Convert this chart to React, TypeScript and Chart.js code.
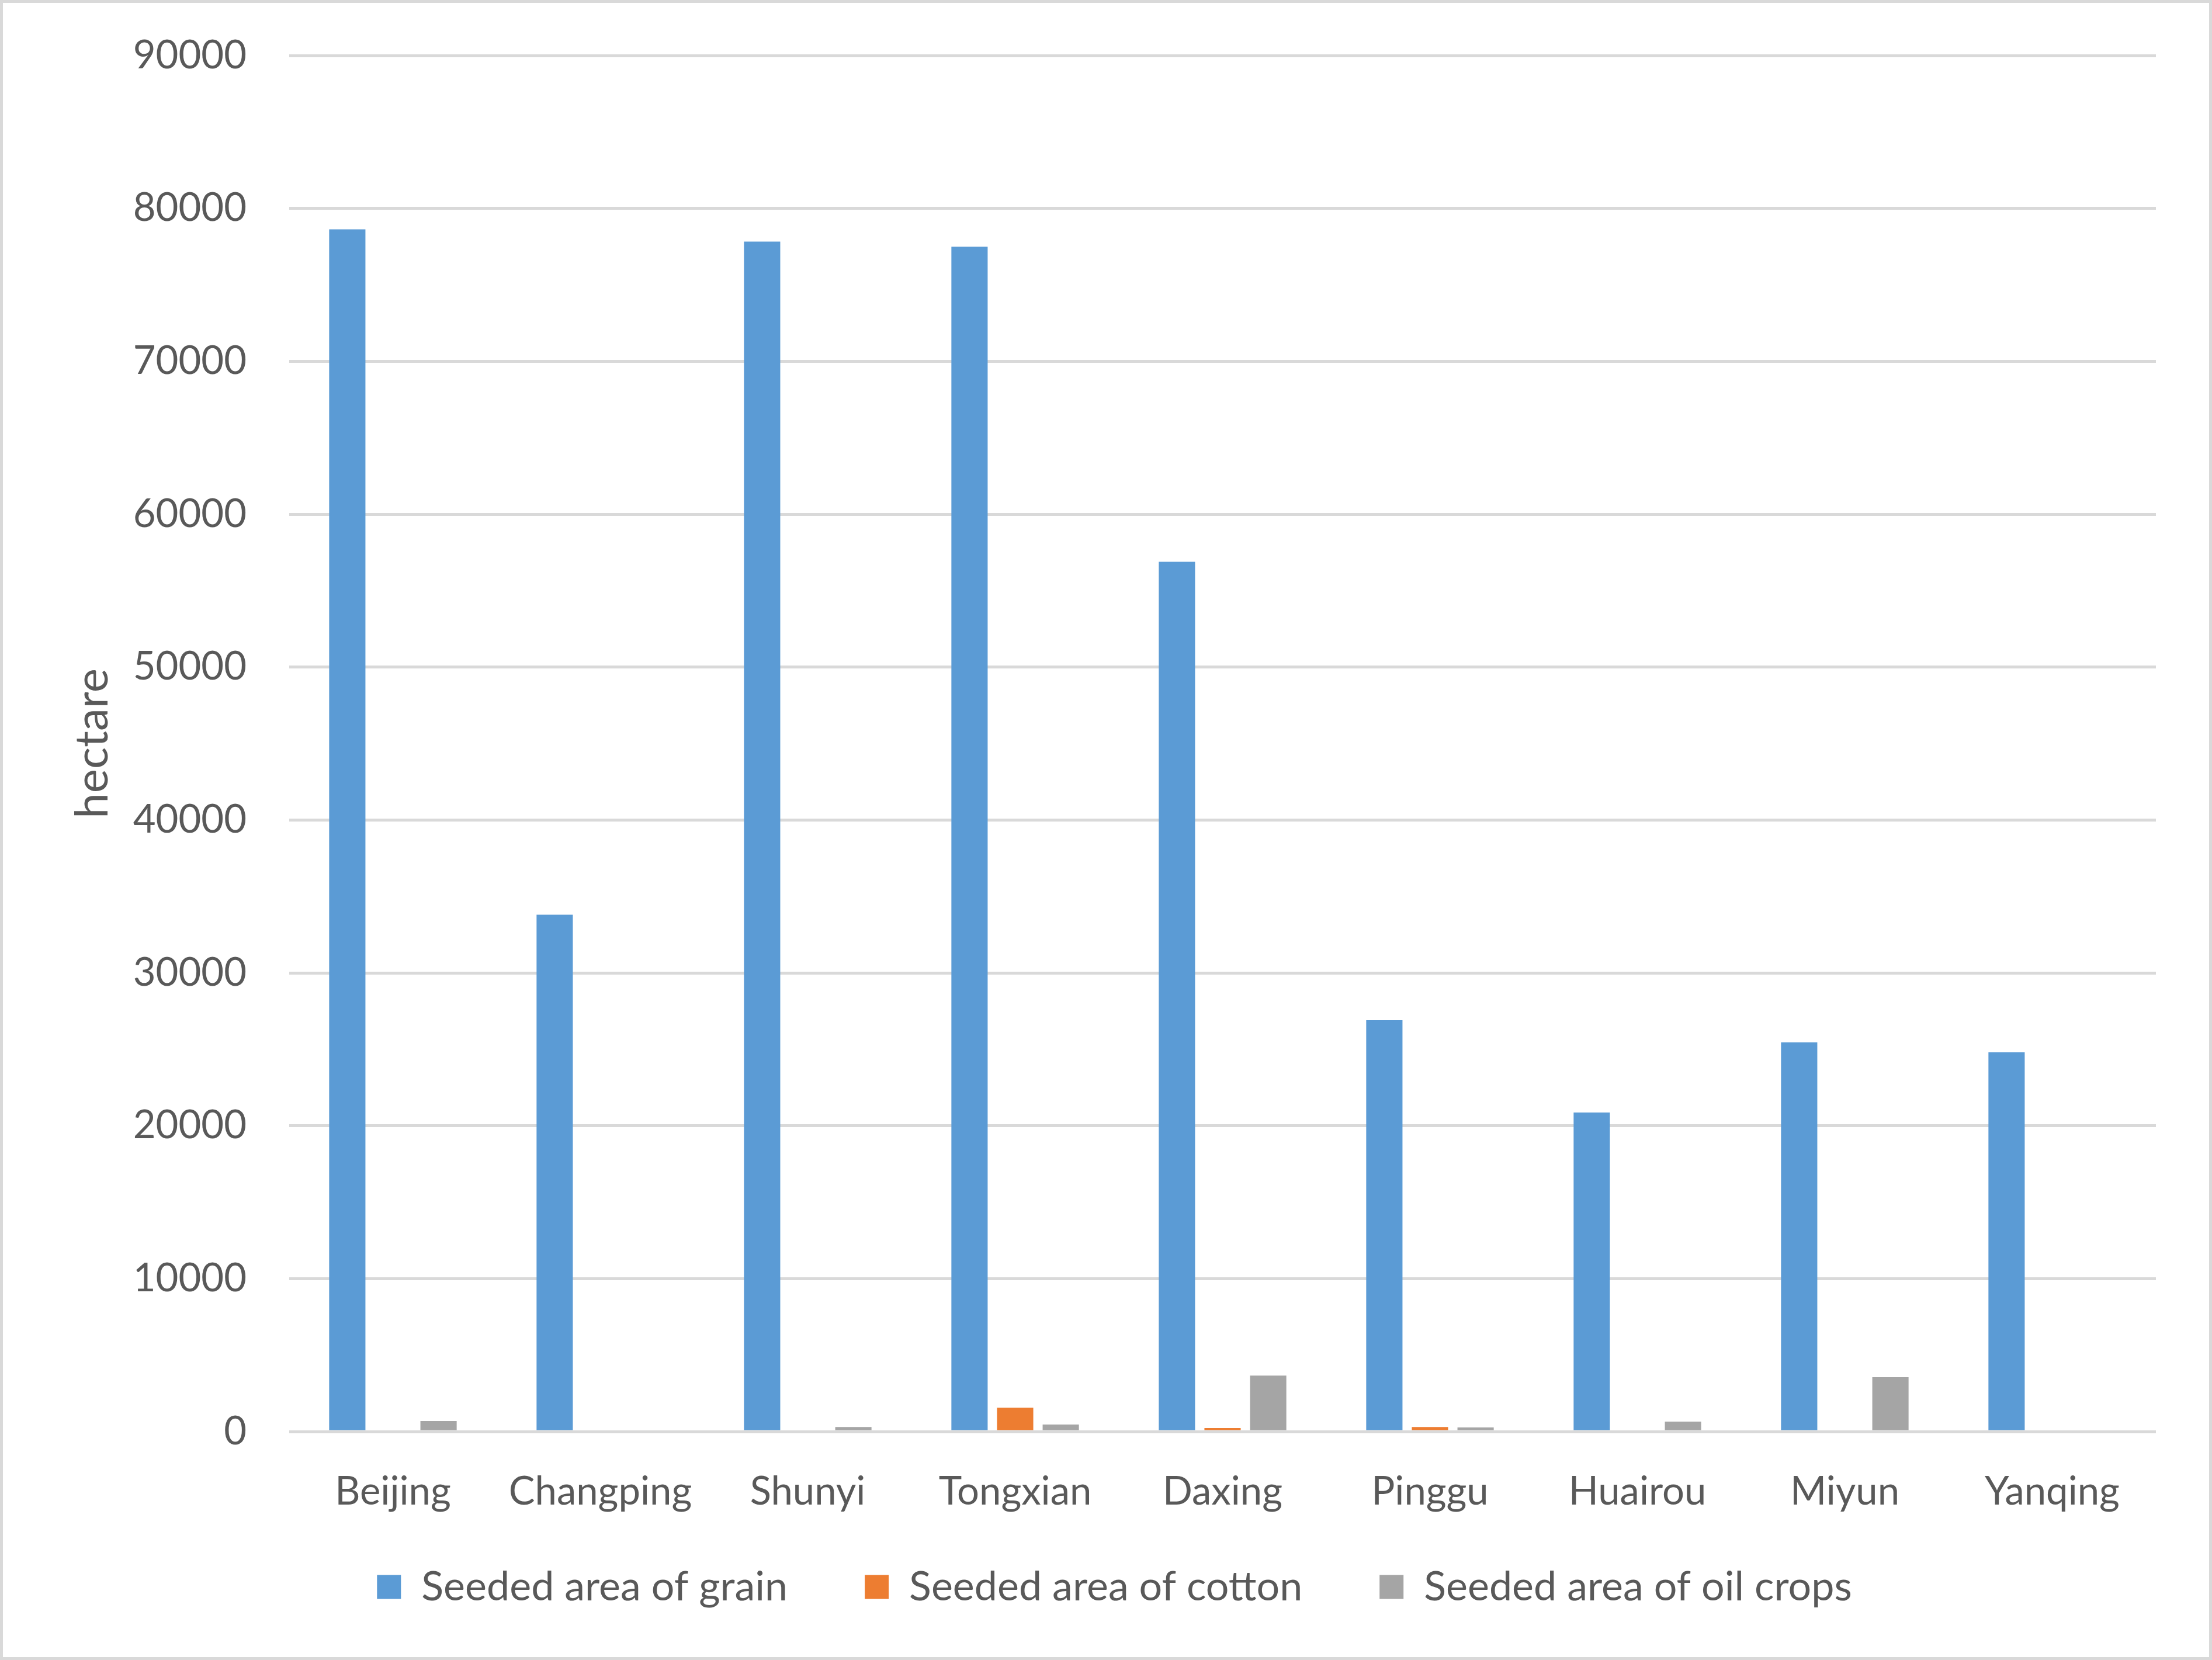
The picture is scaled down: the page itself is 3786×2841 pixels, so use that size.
import React, { useEffect, useRef } from "react";
import { Chart, registerables } from "chart.js";

Chart.register(...registerables);

const categories = ["Beijing", "Changping", "Shunyi", "Tongxian", "Daxing", "Pinggu", "Huairou", "Miyun", "Yanqing"];
const grainArea = [78630, 33800, 77830, 77490, 56890, 26900, 20870, 25450, 24800];
const cottonArea = [0, 0, 0, 1560, 230, 300, 0, 0, 0];
const oilCropArea = [690, 0, 300, 460, 3660, 270, 650, 3550, 0];
const seriesNames = ["Seeded area of grain", "Seeded area of cotton", "Seeded area of oil crops"];
const yTicksMin = 0;
const yTicksMax = 90000;
const yTicksStep = 10000;
const yTitle = "hectare";

const TEXT = "#595959";
const GRID = "#d9d9d9";
const FONT = "Lato, 'Open Sans', sans-serif";

const legendPlace = {
  id: "legendPlace",
  afterLayout(chart: any) {
    const lg = chart.legend;
    if (lg) {
      lg.top -= 51;
      lg.bottom -= 51;
      lg.left += 60;
      lg.right += 60;
    }
  },
};

export default function App() {
  const ref = useRef<HTMLCanvasElement | null>(null);

  useEffect(() => {
    if (!ref.current) return;
    const chart = new Chart(ref.current, {
      type: "bar",
      data: {
        labels: categories,
        datasets: [
          { label: seriesNames[0], data: grainArea, backgroundColor: "#5b9bd5", borderWidth: 0 },
          { label: seriesNames[1], data: cottonArea, backgroundColor: "#ed7d31", borderWidth: 0 },
          { label: seriesNames[2], data: oilCropArea, backgroundColor: "#a5a5a5", borderWidth: 0 },
        ],
      },
      plugins: [legendPlace],
      options: {
        responsive: false,
        animation: false,
        devicePixelRatio: 1,
        layout: { autoPadding: false, padding: { left: 0, top: 90, right: 91, bottom: 24 } },
        datasets: { bar: { categoryPercentage: 0.66, barPercentage: 0.795 } },
        plugins: {
          tooltip: { enabled: false },
          legend: {
            position: "bottom",
            labels: {
              boxWidth: 41,
              boxHeight: 41,
              padding: 132,
              color: TEXT,
              font: { family: FONT, size: 70 },
            },
          },
        },
        scales: {
          x: {
            grid: { display: false, drawTicks: false },
            border: { display: false },
            ticks: { color: TEXT, font: { family: FONT, size: 67 }, padding: 63, maxRotation: 0 },
            afterFit: (scale: any) => {
              scale.height = 150;
            },
          },
          y: {
            min: yTicksMin,
            max: yTicksMax,
            grid: { color: GRID, lineWidth: 5, drawTicks: false },
            border: { display: false },
            ticks: {
              stepSize: yTicksStep,
              color: TEXT,
              padding: 73,
              font: { family: FONT, size: 67 },
              callback: (v: any) => String(v),
            },
            title: {
              display: true,
              text: yTitle,
              color: TEXT,
              font: { family: FONT, size: 78 },
              padding: { top: 107, bottom: 0 },
            },
            afterFit: (scale: any) => {
              scale.width = 490;
              scale.paddingTop = 40;
              scale.paddingBottom = 40;
            },
          },
        },
      },
    });
    return () => chart.destroy();
  }, []);

  return (
    <div
      style={{
        position: "fixed",
        left: 0,
        top: 0,
        width: 3786,
        height: 2841,
        boxSizing: "border-box",
        border: `5px solid ${GRID}`,
        background: "#ffffff",
      }}
    >
      <canvas ref={ref} width={3776} height={2831} style={{ display: "block" }} />
    </div>
  );
}
